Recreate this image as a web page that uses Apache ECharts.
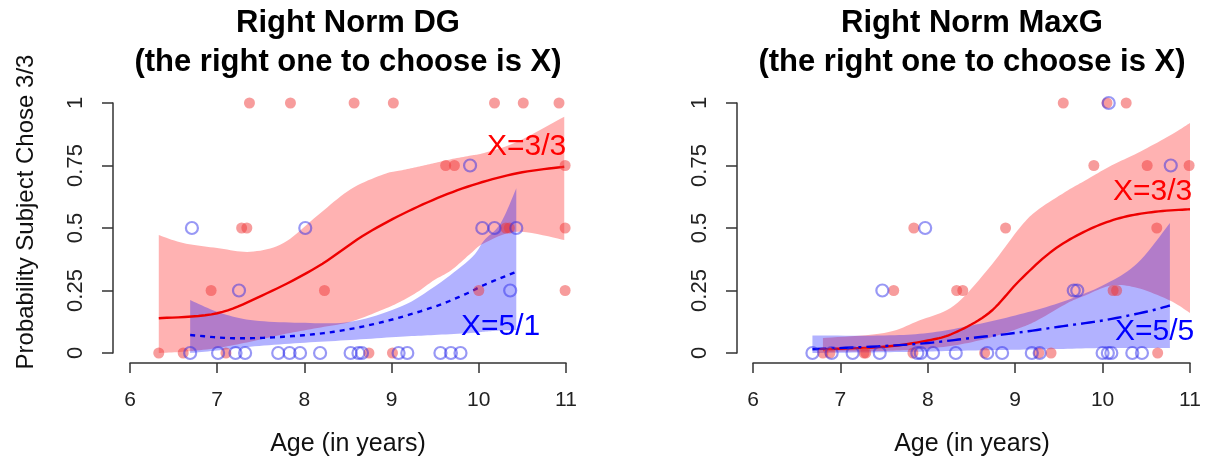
<!DOCTYPE html>
<html><head><meta charset="utf-8">
<script src="https://cdn.jsdelivr.net/npm/echarts@6/dist/echarts.min.js"></script>
<style>html,body{margin:0;padding:0;background:#fff}#c{width:1206px;height:467px}</style>
</head><body><div id="c"></div>
<script>
// ---------- tick labels ----------
const xTicks = [6, 7, 8, 9, 10, 11];
const yTickLabels = ['0', '0.25', '0.5', '0.75', '1'];

// ---------- Panel 1: Right Norm DG ----------
const dgRedAge  = [7.37,7.84,8.57,9.02,10.18,10.51,10.92, 9.62,9.72,10.99, 7.28,7.34,10.31,10.35,10.99, 6.93,8.23,10.0,10.99, 6.33,6.61,7.10,8.74,9.01];
const dgRedProb = [1,1,1,1,1,1,1, 0.75,0.75,0.75, 0.5,0.5,0.5,0.5,0.5, 0.25,0.25,0.25,0.25, 0,0,0,0,0];
const dgBlueAge  = [9.90, 6.71,8.01,10.04,10.18,10.43, 7.25,10.36, 6.69,7.01,7.21,7.32,7.70,7.83,7.95,8.18,8.53,8.62,8.66,9.08,9.18,9.56,9.68,9.79];
const dgBlueProb = [0.75, 0.5,0.5,0.5,0.5,0.5, 0.25,0.25, 0,0,0,0,0,0,0,0,0,0,0,0,0,0,0,0];

const dgRedFitAge = [6.33, 7.0, 7.57, 8.15, 8.72, 9.30, 9.87, 10.44, 10.98];
const dgRedFit    = [0.139, 0.159, 0.239, 0.345, 0.479, 0.585, 0.665, 0.719, 0.745];
const dgRedBandAge = [6.33, 6.61, 7.0, 7.38, 7.76, 8.15, 8.53, 8.91, 9.10, 9.30, 9.49, 9.68, 9.91, 10.06, 10.44, 10.98];
const dgRedBandHi  = [0.472, 0.44, 0.42, 0.405, 0.44, 0.55, 0.655, 0.715, 0.73, 0.745, 0.76, 0.775, 0.79, 0.80, 0.845, 0.945];
const dgRedBandLo  = [0.0, 0.005, 0.02, 0.045, 0.075, 0.10, 0.125, 0.175, 0.205, 0.245, 0.292, 0.33, 0.399, 0.439, 0.485, 0.452];

const dgBlueFitAge = [6.69, 7.19, 7.76, 8.34, 8.91, 9.49, 9.87, 10.06, 10.43];
const dgBlueFit    = [0.072, 0.059, 0.065, 0.085, 0.125, 0.185, 0.239, 0.272, 0.325];
const dgBlueBandAge = [6.69, 7.0, 7.38, 7.95, 8.53, 9.10, 9.49, 9.91, 10.06, 10.25, 10.43];
const dgBlueBandHi  = [0.212, 0.165, 0.132, 0.121, 0.125, 0.185, 0.265, 0.379, 0.45, 0.519, 0.659];
const dgBlueBandLo  = [0.0, 0.01, 0.025, 0.04, 0.052, 0.065, 0.072, 0.08, 0.085, 0.09, 0.092];

// ---------- Panel 2: Right Norm MaxG ----------
const mgRedAge  = [9.55,10.05,10.27, 9.90,10.51,10.99, 7.84,8.89,10.62, 7.61,8.33,8.40,10.12,10.16, 6.80,6.88,7.27,7.29,7.83,8.65,9.27,9.41,10.63];
const mgRedProb = [1,1,1, 0.75,0.75,0.75, 0.5,0.5,0.5, 0.25,0.25,0.25,0.25,0.25, 0,0,0,0,0,0,0,0,0];
const mgBlueAge  = [10.07, 10.78, 7.97, 7.48,9.67,9.71, 6.68,6.90,7.14,7.45,7.88,7.92,8.06,8.32,8.68,8.85,9.19,9.28,10.00,10.06,10.10,10.34,10.45];
const mgBlueProb = [1, 0.75, 0.5, 0.25,0.25,0.25, 0,0,0,0,0,0,0,0,0,0,0,0,0,0,0,0,0];

const mgRedFitAge = [6.80, 7.5, 8.0, 8.3, 8.7, 9.05, 9.43, 9.82, 10.2, 10.6, 11.0];
const mgRedFit    = [0.015, 0.025, 0.05, 0.08, 0.16, 0.29, 0.41, 0.49, 0.54, 0.565, 0.575];
const mgRedBandAge = [6.80, 7.5, 7.9, 8.3, 8.7, 9.05, 9.25, 9.6, 9.8, 10.1, 10.4, 10.77, 11.0];
const mgRedBandHi  = [0.06, 0.08, 0.13, 0.19, 0.34, 0.50, 0.57, 0.65, 0.69, 0.75, 0.80, 0.87, 0.92];
const mgRedBandLo  = [0.005, 0.008, 0.015, 0.03, 0.06, 0.10, 0.13, 0.20, 0.23, 0.27, 0.26, 0.21, 0.16];

const mgBlueFitAge = [6.68, 7.5, 8.0, 8.5, 9.0, 9.5, 10.0, 10.5, 10.77];
const mgBlueFit    = [0.015, 0.028, 0.04, 0.06, 0.08, 0.105, 0.13, 0.165, 0.19];
const mgBlueBandAge = [6.68, 7.5, 8.0, 8.5, 9.0, 9.5, 10.0, 10.4, 10.77];
const mgBlueBandHi  = [0.07, 0.07, 0.08, 0.11, 0.15, 0.20, 0.27, 0.36, 0.52];
const mgBlueBandLo  = [0.0, 0.003, 0.006, 0.01, 0.013, 0.016, 0.02, 0.02, 0.02];

// ---------- helpers ----------
const FONT = '"Liberation Sans", Arial, Helvetica, sans-serif';
const zip = (xs, ys) => xs.map((x, i) => [x, ys[i]]);
const RED_BAND = 'rgba(255,0,0,0.3)';
const BLUE_BAND = 'rgba(0,0,255,0.3)';

// Catmull-Rom spline through pixel points (rendering only)
function spline(pts, steps) {
  const out = [];
  const n = pts.length;
  for (let i = 0; i < n - 1; i++) {
    const p0 = pts[Math.max(0, i - 1)], p1 = pts[i], p2 = pts[i + 1], p3 = pts[Math.min(n - 1, i + 2)];
    const c1 = [p1[0] + (p2[0] - p0[0]) / 6, p1[1] + (p2[1] - p0[1]) / 6];
    const c2 = [p2[0] - (p3[0] - p1[0]) / 6, p2[1] - (p3[1] - p1[1]) / 6];
    for (let s = 0; s < steps; s++) {
      const t = s / steps, u = 1 - t;
      out.push([
        u*u*u*p1[0] + 3*u*u*t*c1[0] + 3*u*t*t*c2[0] + t*t*t*p2[0],
        u*u*u*p1[1] + 3*u*u*t*c1[1] + 3*u*t*t*c2[1] + t*t*t*p2[1]
      ]);
    }
  }
  out.push(pts[n - 1]);
  return out;
}

function band(gi, xs, lo, hi, color) {
  return {
    type: 'custom', coordinateSystem: 'cartesian2d', xAxisIndex: gi, yAxisIndex: gi,
    data: [[xs[0], lo[0]]], silent: true, z: 1, clip: true,
    renderItem: function (params, api) {
      const up = spline(xs.map((x, i) => api.coord([x, hi[i]])), 10);
      const dn = spline(xs.map((x, i) => api.coord([x, lo[i]])), 10).reverse();
      return { type: 'polygon', shape: { points: up.concat(dn) }, style: { fill: color } };
    }
  };
}
function fitLine(gi, xs, ys, color, dash) {
  return {
    type: 'custom', coordinateSystem: 'cartesian2d', xAxisIndex: gi, yAxisIndex: gi,
    data: [[xs[0], ys[0]]], silent: true, z: 3,
    renderItem: function (params, api) {
      const pts = spline(xs.map((x, i) => api.coord([x, ys[i]])), 10);
      return { type: 'polyline', shape: { points: pts },
        style: { stroke: color, lineWidth: 2.4, fill: null, lineDash: dash } };
    }
  };
}
function redPts(gi, xs, ys) {
  return { type: 'scatter', xAxisIndex: gi, yAxisIndex: gi, data: zip(xs, ys), clip: false, z: 4,
    symbol: 'circle', symbolSize: 11, itemStyle: { color: 'rgba(238,55,55,0.62)' } };
}
function bluePts(gi, xs, ys) {
  return { type: 'scatter', xAxisIndex: gi, yAxisIndex: gi, data: zip(xs, ys), clip: false, z: 5,
    symbol: 'circle', symbolSize: 12,
    itemStyle: { color: 'rgba(0,0,0,0)', borderColor: 'rgba(40,40,235,0.6)', borderWidth: 2.2 } };
}
const axisLineStyle = { color: '#333', width: 1.5 };
function xAx(gi) {
  return { type: 'value', gridIndex: gi, min: xTicks[0], max: xTicks[xTicks.length - 1], interval: 1,
    offset: 10, axisLine: { onZero: false, lineStyle: axisLineStyle },
    axisTick: { length: 10, lineStyle: axisLineStyle }, splitLine: { show: false },
    axisLabel: { fontSize: 21, color: '#222', fontFamily: FONT, margin: 27,
      formatter: v => String(xTicks[xTicks.indexOf(v)]) } };
}
function yAx(gi, off) {
  return { type: 'value', gridIndex: gi, min: 0, max: 1, interval: 0.25,
    offset: off, axisLine: { onZero: false, lineStyle: axisLineStyle },
    axisTick: { length: 11, lineStyle: axisLineStyle }, splitLine: { show: false },
    axisLabel: { fontSize: 22, color: '#222', fontFamily: FONT, margin: 26, rotate: 90,
      formatter: v => yTickLabels[Math.round(v * 4)] } };
}
function txt(x, y, text, size, color, weight, extra) {
  return Object.assign({ type: 'text', x: x, y: y, style: { text: text, fontSize: size, fill: color,
    fontWeight: weight || 'normal', fontFamily: FONT, textAlign: 'center', textVerticalAlign: 'middle' } }, extra || {});
}
function note(x, y, text, color) {
  return { type: 'text', x: x, y: y, style: { text: text, fontSize: 30, fill: color, fontFamily: FONT,
    textAlign: 'left', textVerticalAlign: 'middle' } };
}

const chart = echarts.init(document.getElementById('c'), null, { renderer: 'canvas' });
chart.setOption({
  animation: false,
  backgroundColor: '#fff',
  grid: [
    { left: 130, top: 103, width: 436, height: 250 },
    { left: 753, top: 103, width: 437, height: 250 }
  ],
  xAxis: [xAx(0), xAx(1)],
  yAxis: [yAx(0, 17), yAx(1, 16)],
  graphic: [
    txt(348, 23, 'Right Norm DG', 31, '#000', 'bold'),
    txt(348, 62, '(the right one to choose is X)', 31, '#000', 'bold'),
    txt(972, 23, 'Right Norm MaxG', 31, '#000', 'bold'),
    txt(972, 62, '(the right one to choose is X)', 31, '#000', 'bold'),
    txt(348, 444, 'Age (in years)', 25, '#111'),
    txt(972, 444, 'Age (in years)', 25, '#111'),
    txt(26, 212, 'Probability Subject Chose 3/3', 24, '#111', 'normal', { rotation: Math.PI / 2 }),
    note(487, 147, 'X=3/3', '#ff0000'),
    note(461, 327, 'X=5/1', '#0000ff'),
    note(1113, 192, 'X=3/3', '#ff0000'),
    note(1115, 332, 'X=5/5', '#0000ff')
  ],
  series: [
    band(0, dgRedBandAge, dgRedBandLo, dgRedBandHi, RED_BAND),
    band(0, dgBlueBandAge, dgBlueBandLo, dgBlueBandHi, BLUE_BAND),
    fitLine(0, dgRedFitAge, dgRedFit, '#ee0000', null),
    fitLine(0, dgBlueFitAge, dgBlueFit, '#0000ee', [5, 5]),
    redPts(0, dgRedAge, dgRedProb), bluePts(0, dgBlueAge, dgBlueProb),
    band(1, mgRedBandAge, mgRedBandLo, mgRedBandHi, RED_BAND),
    band(1, mgBlueBandAge, mgBlueBandLo, mgBlueBandHi, BLUE_BAND),
    fitLine(1, mgRedFitAge, mgRedFit, '#ee0000', null),
    fitLine(1, mgBlueFitAge, mgBlueFit, '#0000ee', [14, 5, 3, 5]),
    redPts(1, mgRedAge, mgRedProb), bluePts(1, mgBlueAge, mgBlueProb)
  ]
});
</script>
</body></html>
